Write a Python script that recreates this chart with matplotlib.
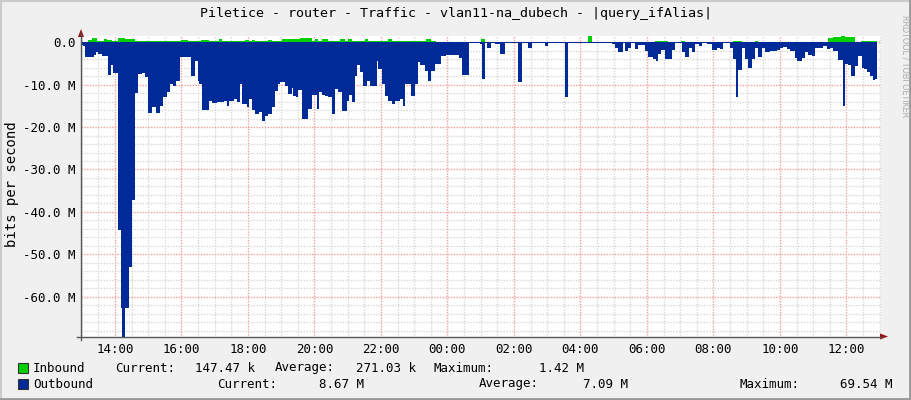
import matplotlib
matplotlib.use('Agg')
import matplotlib.pyplot as plt
import matplotlib.dates as mdates
from matplotlib.ticker import MultipleLocator, FuncFormatter
from matplotlib.patches import Polygon, Rectangle
from matplotlib.lines import Line2D
from datetime import datetime, timedelta

# outbound traffic (M bits/s, drawn negative), step points
out_times = ["13:00", "13:03", "13:06", "13:22", "13:26", "13:30", "13:36", "13:48", "13:53", "13:57",
             "14:06", "14:10", "14:13", "14:19", "14:25", "14:30", "14:36", "14:42", "14:48", "14:55",
             "15:00", "15:06", "15:14", "15:22", "15:27", "15:33", "15:39", "15:45", "15:51", "15:57",
             "16:17", "16:25", "16:29", "16:32", "16:37", "16:49", "16:55", "17:04", "17:16", "17:22",
             "17:26", "17:34", "17:40", "17:46", "17:49", "17:58", "18:01", "18:07", "18:13", "18:19",
             "18:25", "18:31", "18:37", "18:43", "18:49", "18:55", "18:58", "19:07", "19:13", "19:19",
             "19:22", "19:27", "19:31", "19:37", "19:49", "19:55", "20:04", "20:09", "20:13", "20:19",
             "20:25", "20:31", "20:37", "20:43", "20:49", "20:58", "21:03", "21:07", "21:13", "21:16",
             "21:22", "21:28", "21:34", "21:40", "21:52", "21:55", "22:01", "22:07", "22:13", "22:19",
             "22:25", "22:34", "22:39", "22:43", "22:55", "23:01", "23:07", "23:10", "23:19", "23:25",
             "23:31", "23:37", "23:49", "23:58", "00:20", "00:26", "00:38", "00:59", "01:02", "01:08",
             "01:12", "01:18", "01:26", "01:35", "01:44", "01:53", "02:08", "02:14", "02:26", "02:32",
             "02:56", "03:02", "03:32", "03:38", "04:56", "05:02", "05:08", "05:16", "05:20", "05:26",
             "05:32", "05:38", "05:44", "05:56", "06:02", "06:11", "06:16", "06:20", "06:26", "06:33",
             "06:45", "06:51", "07:03", "07:09", "07:15", "07:22", "07:27", "07:33", "07:39", "07:48",
             "07:57", "08:06", "08:12", "08:17", "08:29", "08:35", "08:41", "08:45", "08:51", "08:57",
             "09:03", "09:09", "09:15", "09:21", "09:27", "09:33", "09:42", "09:54", "10:00", "10:06",
             "10:12", "10:18", "10:27", "10:31", "10:39", "10:45", "10:51", "10:57", "11:03", "11:12",
             "11:18", "11:24", "11:30", "11:36", "11:45", "11:53", "11:57", "12:03", "12:09", "12:15",
             "12:21", "12:28", "12:31", "12:37", "12:43", "12:47", "12:52", "12:55"]
out_vals = [-0.8, -1.0, -3.5, -3.0, -2.3, -2.8, -3.2, -7.7, -5.4, -7.2,
            -44.2, -62.6, -69.54, -62.6, -53.0, -37.2, -12.0, -7.5, -7.2, -8.2,
            -16.8, -15.2, -16.6, -15.0, -13.0, -11.8, -9.8, -10.3, -9.1, -3.6,
            -7.9, -4.4, -9.1, -9.9, -16.0, -13.8, -14.4, -14.2, -13.8, -15.0,
            -13.8, -13.5, -14.2, -9.9, -14.7, -15.2, -13.4, -16.0, -17.0, -16.5,
            -18.7, -17.3, -17.0, -15.4, -11.5, -9.9, -9.3, -10.3, -12.2, -10.8,
            -12.6, -13.0, -11.3, -18.1, -15.8, -12.4, -15.8, -11.8, -12.4, -12.6,
            -13.0, -17.0, -11.1, -11.8, -16.2, -13.8, -12.4, -14.0, -7.9, -5.3,
            -7.1, -10.3, -9.1, -10.3, -4.5, -6.4, -9.9, -12.6, -13.8, -14.6,
            -13.8, -13.4, -15.0, -9.9, -12.6, -9.9, -4.8, -5.3, -6.7, -9.1,
            -6.7, -5.2, -3.2, -3.0, -3.8, -7.7, -0.3, -0.4, -8.7, -0.3,
            -1.4, -0.3, -0.5, -2.7, -0.3, -0.25, -9.5, -0.25, -1.4, -0.25,
            -0.9, -0.25, -12.9, -0.25, -0.5, -1.3, -2.4, -0.3, -2.0, -1.4,
            -0.3, -1.6, -0.6, -2.0, -3.5, -4.0, -4.5, -2.8, -1.9, -3.9,
            -1.9, -0.3, -2.4, -3.6, -1.4, -2.4, -0.5, -0.9, -0.3, -0.5,
            -1.9, -1.3, -1.6, -0.3, -1.3, -4.1, -13.0, -6.6, -1.4, -4.0,
            -6.0, -4.0, -1.3, -3.6, -1.4, -2.4, -2.2, -1.9, -1.4, -1.1,
            -1.7, -2.0, -3.8, -4.5, -3.8, -2.4, -3.0, -3.2, -1.3, -1.4,
            -0.9, -1.6, -1.3, -2.0, -4.2, -15.0, -5.2, -5.4, -7.9, -5.6,
            -3.2, -6.0, -6.4, -7.1, -7.9, -8.9, -8.67, -8.67]

# inbound traffic (M bits/s)
in_times = ["13:00", "13:12", "13:18", "13:28", "13:40", "13:45", "13:54", "14:06", "14:18", "14:27",
            "14:36", "16:00", "16:12", "16:36", "16:49", "17:07", "17:13", "17:55", "18:01", "18:07",
            "18:13", "18:37", "18:43", "19:01", "19:25", "19:34", "19:55", "20:01", "20:07", "20:13",
            "20:25", "20:46", "20:55", "21:01", "21:07", "21:31", "21:37", "22:13", "22:19", "23:22",
            "23:31", "23:40", "01:00", "01:08", "04:14", "04:20", "06:14", "06:38", "07:02", "07:09",
            "08:35", "08:51", "09:15", "09:21", "11:27", "11:36", "11:51", "11:57", "12:15", "12:27",
            "12:39", "12:52", "12:55"]
in_vals = [0.1, 0.5, 0.9, 0.3, 0.7, 0.5, 0.15, 0.9, 0.8, 0.6,
           0.15, 0.55, 0.15, 0.55, 0.3, 0.6, 0.25, 0.55, 0.25, 0.55,
           0.25, 0.55, 0.25, 0.6, 0.8, 0.85, 0.25, 0.8, 0.25, 0.6,
           0.25, 0.6, 0.25, 0.6, 0.25, 0.6, 0.25, 0.6, 0.25, 0.6,
           0.3, 0.05, 0.6, 0.05, 1.42, 0.05, 0.3, 0.05, 0.3, 0.05,
           0.3, 0.05, 0.3, 0.05, 0.9, 1.1, 1.4, 1.25, 0.05, 0.3,
           0.15, 0.147, 0.147]

hour_labels = ["14:00", "16:00", "18:00", "20:00", "22:00", "00:00",
               "02:00", "04:00", "06:00", "08:00", "10:00", "12:00"]

legend_in = ["Inbound", "Current:", "147.47 k", "Average:", "271.03 k", "Maximum:", "1.42 M"]
legend_out = ["Outbound", "Current:", "8.67 M", "Average:", "7.09 M", "Maximum:", "69.54 M"]

BASE = datetime(2024, 5, 6)


def to_times(labels):
    res = []
    day = 0
    prev = None
    for s in labels:
        h, m = map(int, s.split(':'))
        t = BASE + timedelta(days=day, hours=h, minutes=m)
        if prev is not None and t < prev:
            day += 1
            t += timedelta(days=1)
        res.append(t)
        prev = t
    return res


W, H = 911, 400
fx = lambda x: x / W
fy = lambda y: 1 - y / H

fig = plt.figure(figsize=(W / 100, H / 100), dpi=100, facecolor='#F0F0F0')
font = 'DejaVu Sans Mono'

# plot area in pixels: x 81..881, y 36..337.5
ax = fig.add_axes([fx(81), fy(337.5), (881 - 81) / W, (337.5 - 36) / H])
ax.set_facecolor('white')

ot = to_times(out_times)
it = to_times(in_times)
ax.fill_between(it, in_vals, 0, step='post', color='#00CF00', lw=0, zorder=3)
ax.fill_between(ot, out_vals, 0, step='post', color='#002A97', lw=0, zorder=3)

ax.set_ylim(-69.54, 1.42)
ax.set_xlim(BASE + timedelta(hours=12, minutes=58.7), BASE + timedelta(days=1, hours=13, minutes=2.3))

ax.yaxis.set_major_locator(MultipleLocator(10))
ax.yaxis.set_minor_locator(MultipleLocator(2))
ax.yaxis.set_major_formatter(FuncFormatter(lambda v, p: "0.0" if abs(v) < 1e-9 else "%.1f M" % v))
ax.xaxis.set_major_locator(mdates.HourLocator(byhour=range(0, 24, 2)))
ax.xaxis.set_minor_locator(mdates.MinuteLocator(byminute=[0, 30]))
ax.xaxis.set_major_formatter(mdates.DateFormatter('%H:%M'))

ax.grid(which='minor', color='#D8D8D8', linestyle=(0, (1, 1)), lw=1, zorder=1)
ax.grid(which='major', color='#F2A0A0', linestyle=(0, (1, 1)), lw=1, zorder=1)
ax.set_axisbelow(True)
ax.tick_params(which='both', length=0)
ax.tick_params(axis='y', pad=4, labelsize=9)
ax.tick_params(axis='x', pad=4, labelsize=9)
for lab in ax.get_xticklabels() + ax.get_yticklabels():
    lab.set_family(font)
for s in ax.spines.values():
    s.set_visible(False)

# axis lines with arrows
fig.add_artist(Line2D([fx(81), fx(81)], [fy(33), fy(340)], color='#555555', lw=1))
fig.add_artist(Line2D([fx(77), fx(882)], [fy(336.5), fy(336.5)], color='#555555', lw=1))
fig.add_artist(Polygon([[fx(78), fy(37)], [fx(84), fy(37)], [fx(81), fy(29)]], closed=True,
                       color='#9A1010', lw=0))
fig.add_artist(Polygon([[fx(880), fy(333.5)], [fx(880), fy(339.5)], [fx(888), fy(336.5)]], closed=True,
                       color='#9A1010', lw=0))

fig.text(fx(456), fy(13), "Piletice - router - Traffic - vlan11-na_dubech - |query_ifAlias|",
         ha='center', va='center', fontsize=9.6, family=font)
fig.text(fx(12), fy(184), "bits per second", rotation=90, ha='center', va='center',
         fontsize=10, family=font)
fig.text(fx(905), fy(66), "RRDTOOL / TOBI OETIKER", rotation=270, ha='center', va='center',
         fontsize=5.8, color='#AAAAAA', family='DejaVu Sans')

# legend
rows = [(368, '#00CF00', legend_in, [33, 115, 255, 275, 416, 434, 584]),
        (384, '#002A97', legend_out, [33, 217, 364, 479, 628, 740, 893])]
for y, col, texts, xs in rows:
    fig.add_artist(Rectangle((fx(18), fy(y + 5)), 10 / W, 10 / H, facecolor=col,
                             edgecolor='#333333', lw=0.8))
    for i, (t, x) in enumerate(zip(texts, xs)):
        ha = 'right' if i in (2, 4, 6) else 'left'
        fig.text(fx(x), fy(y), t, ha=ha, va='center', fontsize=9, family=font)

# 3d border
fig.add_artist(Line2D([0, 1], [fy(0.5), fy(0.5)], color='#CBCBCB', lw=1.5))
fig.add_artist(Line2D([fx(0.5), fx(0.5)], [0, 1], color='#CBCBCB', lw=1.5))
fig.add_artist(Line2D([0, 1], [fy(399), fy(399)], color='#999999', lw=2))
fig.add_artist(Line2D([fx(910), fx(910)], [0, 1], color='#999999', lw=2))

fig.savefig('out.png', dpi=100, facecolor=fig.get_facecolor())
